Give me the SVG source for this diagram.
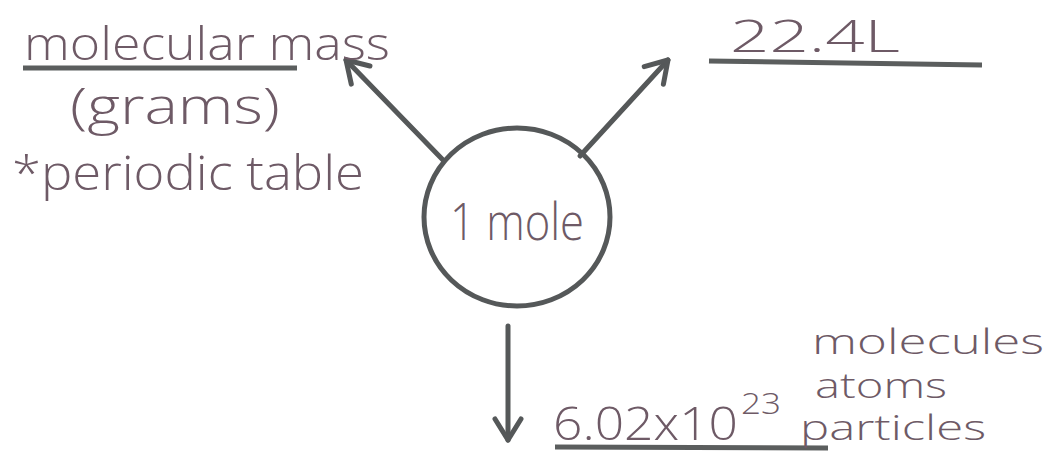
<svg xmlns="http://www.w3.org/2000/svg" width="1049" height="463" viewBox="0 0 1049 463">
  <style>
    .hand { font-family: "Open Sans", "Liberation Sans", sans-serif; font-weight: 300; fill: #6e5a66; }
    .ink { stroke: #555859; stroke-width: 5; fill: none; stroke-linecap: round; }
    .rule { stroke: #5b5e5e; stroke-width: 5; fill: none; }
  </style>
  <defs>
    <marker id="chevron" markerUnits="userSpaceOnUse" viewBox="-26 -18 30 36" refX="0" refY="0" markerWidth="30" markerHeight="36" orient="auto">
      <path d="M-21,-13 L0,0 L-21,13" stroke="#555859" stroke-width="5" fill="none" stroke-linecap="round" stroke-linejoin="round"/>
    </marker>
  </defs>
  <rect width="1049" height="463" fill="#ffffff"/>

  <!-- connectors -->
  <g id="connectors">
    <line class="ink" x1="443" y1="160" x2="346" y2="60" marker-end="url(#chevron)"/>
    <line class="ink" x1="580" y1="156" x2="668" y2="60" marker-end="url(#chevron)"/>
    <line class="ink" x1="508" y1="326" x2="508" y2="440" marker-end="url(#chevron)"/>
  </g>

  <!-- central node -->
  <g id="mole">
    <ellipse cx="517" cy="217" rx="93" ry="89" stroke="#555859" stroke-width="5" fill="none"/>
    <text class="hand" x="450" y="240" font-size="52" textLength="134" lengthAdjust="spacingAndGlyphs">1 mole</text>
  </g>

  <!-- mass in grams -->
  <g id="mass">
    <text class="hand" x="24" y="60" font-size="46" textLength="366" lengthAdjust="spacingAndGlyphs">molecular mass</text>
    <line class="rule" x1="23" y1="68" x2="297" y2="68"/>
    <text class="hand" x="70" y="124" font-size="50" textLength="210" lengthAdjust="spacingAndGlyphs">(grams)</text>
    <text class="hand" x="12" y="190" font-size="48" textLength="352" lengthAdjust="spacingAndGlyphs">*periodic table</text>
  </g>

  <!-- gas volume -->
  <g id="volume">
    <text class="hand" x="730" y="52" font-size="44" textLength="170" lengthAdjust="spacingAndGlyphs">22.4L</text>
    <line class="rule" x1="709" y1="61" x2="982" y2="65"/>
  </g>

  <!-- Avogadro's number -->
  <g id="avogadro">
    <text class="hand" x="553" y="440" font-size="46" textLength="185" lengthAdjust="spacingAndGlyphs">6.02x10</text>
    <text class="hand" x="741" y="414" font-size="30" textLength="40" lengthAdjust="spacingAndGlyphs">23</text>
    <line class="rule" x1="555" y1="447" x2="828" y2="448"/>
    <text class="hand" x="812" y="354" font-size="34" textLength="232" lengthAdjust="spacingAndGlyphs">molecules</text>
    <text class="hand" x="815" y="398" font-size="34" textLength="132" lengthAdjust="spacingAndGlyphs">atoms</text>
    <text class="hand" x="800" y="440" font-size="34" textLength="186" lengthAdjust="spacingAndGlyphs">particles</text>
  </g>
</svg>
